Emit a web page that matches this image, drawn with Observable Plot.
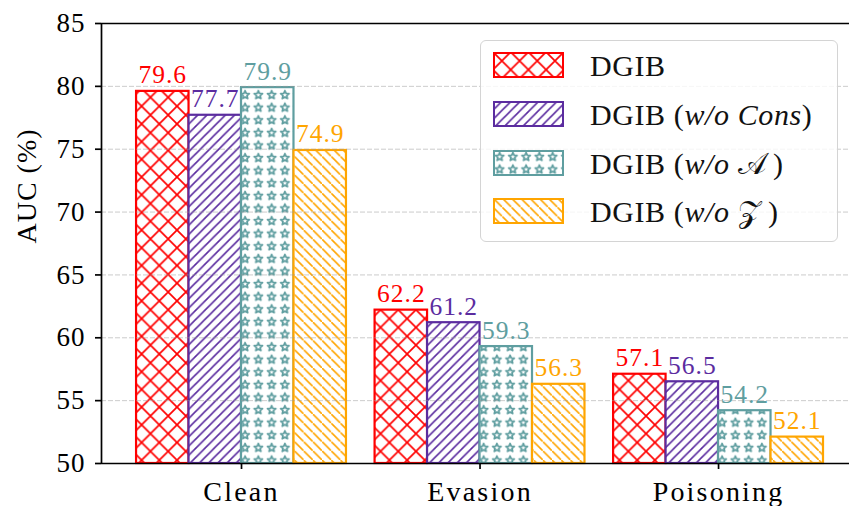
<!DOCTYPE html>
<html>
<head>
<meta charset="utf-8">
<script src="https://cdn.jsdelivr.net/npm/d3@7"></script>
<script src="https://cdn.jsdelivr.net/npm/@observablehq/plot@0.6"></script>
<style>
  html, body { margin: 0; padding: 0; background: white; }
  #wrap { position: relative; width: 849px; height: 506px; overflow: hidden; font-family: "Liberation Serif", serif; }
  #legend { position: absolute; left: 480px; top: 40px; width: 356px; height: 200px;
    border: 1.5px solid #d4d4d4; border-radius: 6px; background: rgba(255,255,255,0.8); }
  .row { position: absolute; left: 12px; height: 26px; display: flex; align-items: center; white-space: nowrap; }
  .row svg { display: block; }
  .row span { position: absolute; left: 97px; font-size: 30px; line-height: 26px; color: #111; letter-spacing: 0.6px; top: 1px; }
  g[aria-label="x-axis tick label"] text { letter-spacing: 2.2px; }
  g[aria-label="y-axis tick label"] text { letter-spacing: 1px; }
  g[aria-label="text"] text { letter-spacing: 1px; }
</style>
</head>
<body>
<svg width="0" height="0" style="position:absolute">
  <defs id="defs"></defs>
</svg>
<div id="wrap">
  <div id="chart"></div>
  <div id="legend"></div>
</div>
<script>
// ---- data ----
const groups = ["Clean", "Evasion", "Poisoning"];
const methods = ["DGIB", "DGIB (w/o Cons)", "DGIB (w/o A)", "DGIB (w/o Z)"];
const legendLabels = [
  "DGIB",
  "DGIB (<i>w/o Cons</i>)",
  "DGIB (<i>w/o</i> 𝒜\u2009)",
  "DGIB (<i>w/o</i> 𝒵\u2009)"
];
const dgib   = [79.6, 62.2, 57.1];
const woCons = [77.7, 61.2, 56.5];
const woA    = [79.9, 59.3, 54.2];
const woZ    = [74.9, 56.3, 52.1];
const yTicks = [50, 55, 60, 65, 70, 75, 80, 85];
const gridTicks = [55, 60, 65, 70, 75, 80];
const colors = ["#ff0000", "#5b2c9f", "#5f9ea0", "#ffa500"];

const series = [dgib, woCons, woA, woZ];
const barW = 0.22;
const rows = series.flatMap((vals, mi) => vals.map((v, gi) => ({
  gi, mi, method: methods[mi], group: groups[gi], value: v,
  x1: gi + (mi - 2) * barW, x2: gi + (mi - 1) * barW, xc: gi + (mi - 1.5) * barW
})));

// ---- hatch patterns ----
function starPath(cx, cy, R, r) {
  let p = "";
  for (let k = 0; k < 10; k++) {
    const a = -Math.PI / 2 + k * Math.PI / 5;
    const rad = k % 2 === 0 ? R : r;
    p += (k === 0 ? "M" : "L") + (cx + rad * Math.cos(a)).toFixed(2) + "," + (cy + rad * Math.sin(a)).toFixed(2);
  }
  return p + "Z";
}
const sx = 17.7, sd = 9.2, stw = 13.25, sth = 12.6;
document.getElementById("defs").innerHTML = `
  <pattern id="pat0" patternUnits="userSpaceOnUse" width="${sx}" height="${sx}">
    <rect width="${sx}" height="${sx}" fill="white"/>
    <path d="M${-sx/2},${-sx/2}L${sx*1.5},${sx*1.5}M${-sx/2},${sx*1.5}L${sx*1.5},${-sx/2}M${sx/2},${-sx/2}L${sx*1.5},${sx/2}M${-sx/2},${sx/2}L${sx/2},${-sx/2}M${-sx/2},${sx/2}L${sx/2},${sx*1.5}M${sx/2},${sx*1.5}L${sx*1.5},${sx/2}" stroke="${colors[0]}" stroke-width="1.7"/>
  </pattern>
  <pattern id="pat1" patternUnits="userSpaceOnUse" width="${sd}" height="${sd}">
    <rect width="${sd}" height="${sd}" fill="white"/>
    <path d="M${-sd},${sd}L${sd},${-sd}M0,${sd*2}L${sd*2},0M${-sd/2},${sd*1.5}L${sd*1.5},${-sd/2}" stroke="${colors[1]}" stroke-width="1.6"/>
  </pattern>
  <pattern id="pat2" patternUnits="userSpaceOnUse" width="${stw}" height="${sth}">
    <rect width="${stw}" height="${sth}" fill="white"/>
    <path d="${starPath(stw/2, sth/2 + 0.5, 4.4, 2.0)}" fill="none" stroke="${colors[2]}" stroke-width="1.7" stroke-linejoin="round"/>
  </pattern>
  <pattern id="pat3" patternUnits="userSpaceOnUse" width="${sd}" height="${sd}">
    <rect width="${sd}" height="${sd}" fill="white"/>
    <path d="M${-sd/2},${-sd/2}L${sd*1.5},${sd*1.5}" stroke="${colors[3]}" stroke-width="1.6"/>
  </pattern>`;

// ---- chart ----
const barMarks = methods.map((m, mi) => Plot.rect(rows.filter(d => d.mi === mi), {
  x1: "x1", x2: "x2", y1: () => 50, y2: "value",
  fill: `url(#pat${mi})`, stroke: colors[mi], strokeWidth: 2.2
}));
const labelMarks = methods.map((m, mi) => Plot.text(rows.filter(d => d.mi === mi), {
  x: "xc", y: "value", text: d => d.value.toFixed(1),
  fill: colors[mi], fontSize: 25.5, lineAnchor: "bottom", dy: -8
}));

const chart = Plot.plot({
  width: 849,
  height: 506,
  marginLeft: 101,
  marginRight: 0,
  marginTop: 23,
  marginBottom: 43,
  style: { fontFamily: "Liberation Serif, serif", fontSize: "26px", color: "black", background: "white", overflow: "visible" },
  x: { type: "linear", domain: [-0.587, 2.549], axis: null },
  y: { domain: [50, 85], axis: null },
  marks: [
    ...barMarks,
    Plot.ruleY(gridTicks, { stroke: "#9a9a9a", strokeOpacity: 0.5, strokeDasharray: "5,2", strokeWidth: 1 }),
    ...labelMarks,
    Plot.ruleY([50, 85], { stroke: "black", strokeWidth: 1.7 }),
    Plot.ruleX([-0.587], { y1: 50, y2: 85, stroke: "black", strokeWidth: 1.7 }),
    Plot.axisY({ ticks: yTicks, tickSize: 6, tickPadding: 10, fontSize: 27, label: null, strokeWidth: 1.7, tickFormat: d => String(d) }),
    Plot.axisX({ ticks: [0, 1, 2], tickFormat: i => groups[i], tickSize: 6, tickPadding: 12, fontSize: 28, label: null, strokeWidth: 1.7 }),
    Plot.text(["AUC (%)"], { frameAnchor: "left", rotate: -90, dx: -74, fontSize: 28, fill: "black" })
  ]
});
document.getElementById("chart").appendChild(chart);

// ---- legend ----
const legend = document.getElementById("legend");
const rowTops = [11, 60, 109, 157];
methods.forEach((m, mi) => {
  const row = document.createElement("div");
  row.className = "row";
  row.style.top = rowTops[mi] + "px";
  row.innerHTML = `<svg width="71" height="26"><rect x="1" y="1" width="69" height="24" fill="url(#pat${mi})" stroke="${colors[mi]}" stroke-width="2"/></svg><span>${legendLabels[mi]}</span>`;
  legend.appendChild(row);
});
</script>
</body>
</html>
